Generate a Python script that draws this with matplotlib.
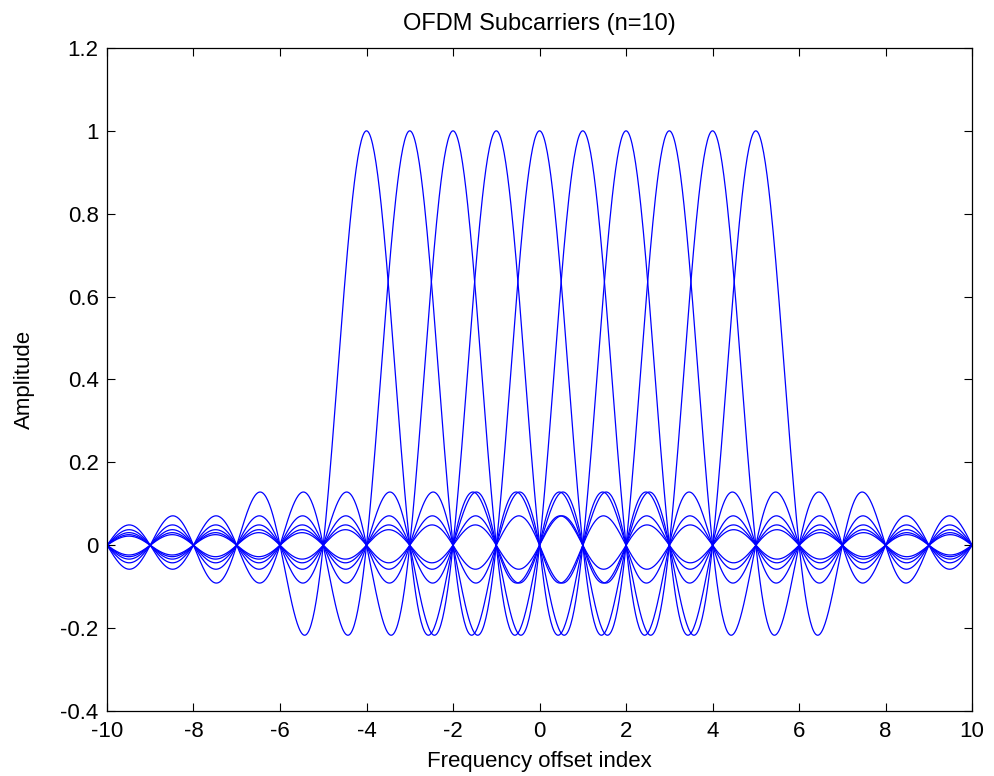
import numpy as np
import matplotlib
matplotlib.use("Agg")
import matplotlib.pyplot as plt

# Centros de las subportadoras (n=10)
centros = [-4, -3, -2, -1, 0, 1, 2, 3, 4, 5]
x_min, x_max = -10, 10
paso = 0.02

# Eje de frecuencia
x = np.arange(x_min, x_max + paso / 2, paso)

plt.rcParams['font.family'] = ['Liberation Sans', 'DejaVu Sans']
plt.rcParams['axes.unicode_minus'] = False

fig = plt.figure(figsize=(9.95, 7.76), dpi=100)
ax = fig.add_axes([0.1075, 0.0838, 0.8695, 0.8544])

# Cada subportadora es un sinc centrado en su indice
for c in centros:
    ax.plot(x, np.sinc(x - c), color='#0000ff', linewidth=0.9)

ax.set_xlim(-10, 10)
ax.set_ylim(-0.4, 1.2)
ax.set_xticks(np.arange(-10, 11, 2))
ax.set_yticks(np.round(np.arange(-0.4, 1.21, 0.2), 1))
ax.set_yticklabels(['-0.4', '-0.2', '0', '0.2', '0.4', '0.6', '0.8', '1', '1.2'])

ax.tick_params(direction='in', top=True, right=True, labelsize=16, length=6, width=0.8)
ax.tick_params(axis='x', pad=7.5)
ax.tick_params(axis='y', pad=6)
for s in ax.spines.values():
    s.set_linewidth(0.9)

ax.set_title('OFDM Subcarriers (n=10)', fontsize=17, pad=13)
ax.set_xlabel('Frequency offset index', fontsize=16, labelpad=6)
ax.set_ylabel('Amplitude', fontsize=16, labelpad=18)

fig.savefig('out.png', dpi=100)
